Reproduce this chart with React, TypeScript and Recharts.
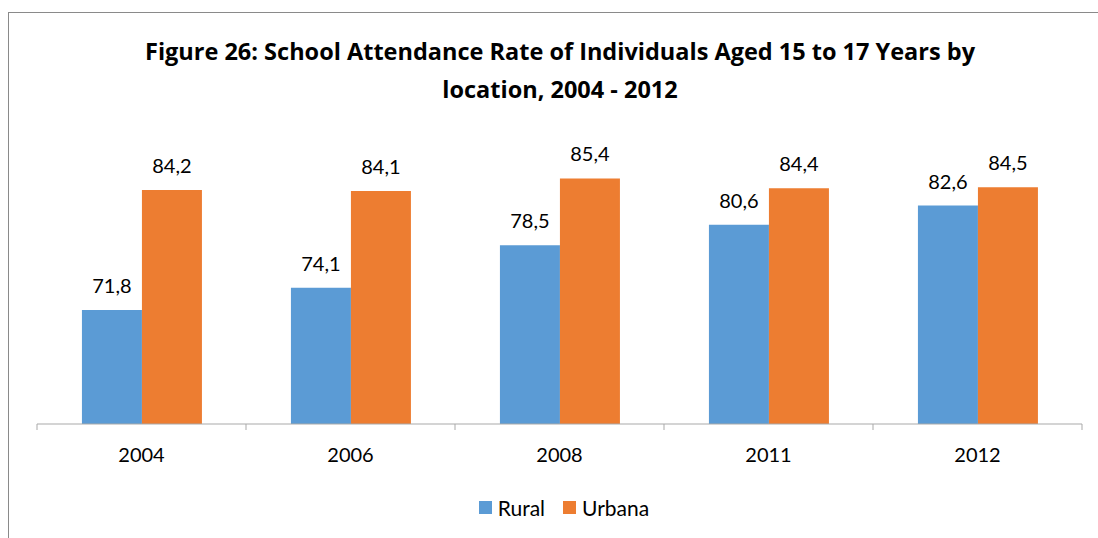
import React from 'react';
import { BarChart, Bar, XAxis, YAxis, Legend, LabelList } from 'recharts';

const years = ['2004', '2006', '2008', '2011', '2012'];
const rural = [71.8, 74.1, 78.5, 80.6, 82.6];
const urbana = [84.2, 84.1, 85.4, 84.4, 84.5];
const boundaryTicks = [0, 1, 2, 3, 4, 5];
const yDomain: [number, number] = [60, 90];
const titleLines = [
  'Figure 26: School Attendance Rate of Individuals Aged 15 to 17 Years by',
  'location, 2004 - 2012',
];

const RURAL_COLOR = '#5B9BD5';
const URBANA_COLOR = '#ED7D31';
const FONT = 'Lato, "Open Sans", sans-serif';
const TITLE_FONT = '"Open Sans", Lato, sans-serif';

const data = years.map((y, i) => ({ year: y, idx: i, Rural: rural[i], Urbana: urbana[i] }));

const fmt = (v: any) => String(v).replace('.', ',');

const LegendContent = (props: any) => {
  const payload = props.payload || [];
  return (
    <div style={{ display: 'flex', justifyContent: 'center', alignItems: 'center', fontFamily: FONT, fontSize: 21, color: '#000' }}>
      {payload.map((p: any, i: number) => (
        <div key={i} style={{ display: 'flex', alignItems: 'center', marginLeft: i === 0 ? 0 : 18 }}>
          <div style={{ width: 13, height: 13, background: p.color, marginRight: 6 }} />
          <span>{p.value}</span>
        </div>
      ))}
    </div>
  );
};

export default function App() {
  return (
    <div style={{ position: 'absolute', left: 0, top: 0, width: 1098, height: 538, background: '#fff', overflow: 'hidden' }}>
      <div style={{ position: 'absolute', left: 8, top: 12, width: 1200, height: 600, borderTop: '1px solid #8a8a8a', borderLeft: '1px solid #8a8a8a' }} />
      <svg style={{ position: 'absolute', left: 0, top: 0 }} width={1098} height={130}>
        {titleLines.map((t, i) => (
          <text key={i} x={560} y={60 + i * 38} textAnchor="middle" fontFamily={TITLE_FONT} fontWeight="bold" fontSize={23.5} fill="#000">
            {t}
          </text>
        ))}
      </svg>
      <div style={{ position: 'absolute', left: 0, top: 0 }}>
        <BarChart
          width={1098}
          height={538}
          data={data}
          margin={{ top: 134, right: 16, bottom: 74, left: 37 }}
          barCategoryGap="21.5%"
          barGap={0}
        >
          <XAxis
            xAxisId="b_cat"
            dataKey="year"
            axisLine={false}
            tickLine={false}
            tickSize={0}
            tickMargin={23}
            height={39}
            tick={{ fontFamily: FONT, fontSize: 20, fill: '#000' }}
          />
          <XAxis
            xAxisId="a_grid"
            type="number"
            dataKey="idx"
            domain={[0, 5]}
            allowDataOverflow
            ticks={boundaryTicks}
            interval={0}
            tickFormatter={() => ''}
            tickSize={6}
            height={1}
            axisLine={{ stroke: '#a9a9a9', strokeWidth: 1 }}
            tickLine={{ stroke: '#a9a9a9', strokeWidth: 1 }}
          />
          <YAxis hide domain={yDomain} allowDataOverflow />
          <Legend
            layout="horizontal"
            verticalAlign="middle"
            align="center"
            content={<LegendContent />}
            wrapperStyle={{ top: 495, left: 15, width: 1098 }}
          />
          <Bar xAxisId="b_cat" dataKey="Rural" fill={RURAL_COLOR} isAnimationActive={false}>
            <LabelList dataKey="Rural" position="top" offset={17} formatter={fmt} style={{ fontFamily: FONT, fontSize: 20, fill: '#000' }} />
          </Bar>
          <Bar xAxisId="b_cat" dataKey="Urbana" fill={URBANA_COLOR} isAnimationActive={false}>
            <LabelList dataKey="Urbana" position="top" offset={17} formatter={fmt} style={{ fontFamily: FONT, fontSize: 20, fill: '#000' }} />
          </Bar>
        </BarChart>
      </div>
    </div>
  );
}
